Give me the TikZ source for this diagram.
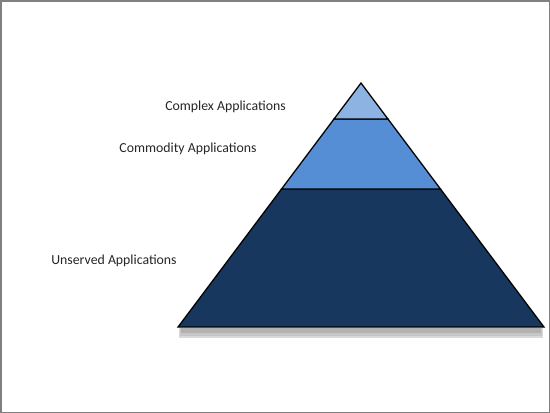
\documentclass[tikz,border=0pt]{standalone}
\usepackage{fontspec}
\setmainfont{Carlito}
\definecolor{topc}{HTML}{8DB3E2}
\definecolor{midc}{HTML}{558ED5}
\definecolor{botc}{HTML}{17375E}
\tikzset{
  band/.style={draw=black, line width=1.3pt, line join=miter},
  lbl/.style={font=\fontsize{13.8}{16}\selectfont, text=black!85, inner sep=0pt}
}
\begin{document}
\begin{tikzpicture}[x=1pt,y=-1pt]
\useasboundingbox (0,0) rectangle (550,413);
\fill[white] (0,0) rectangle (550,413);
\draw[gray, line width=1.5pt] (0.75,0.75) rectangle (549.25,412.25);
% coordinates
\coordinate (apex) at (361,83);
\coordinate (bl) at (178,327);
\coordinate (br) at (544,327);
\coordinate (l1) at (334,119);
\coordinate (r1) at (388,119);
\coordinate (l2) at (281.5,189);
\coordinate (r2) at (440.5,189);
% shadow
\fill[gray!30] (179,328) rectangle (543,338);
\fill[gray!45] (180,328) rectangle (542,336);
\fill[gray!60] (181,328) rectangle (541,333);
% bands
\filldraw[band, fill=botc] (l2) -- (r2) -- (br) -- (bl) -- cycle;
\filldraw[band, fill=midc] (l1) -- (r1) -- (r2) -- (l2) -- cycle;
\filldraw[band, fill=topc] (apex) -- (r1) -- (l1) -- cycle;
% labels
\node[lbl] (complex) at (225.5,106.5) {Complex Applications};
\node[lbl] (commodity) at (188,148.5) {Commodity Applications};
\node[lbl] (unserved) at (114,260.5) {Unserved Applications};
\end{tikzpicture}
\end{document}
